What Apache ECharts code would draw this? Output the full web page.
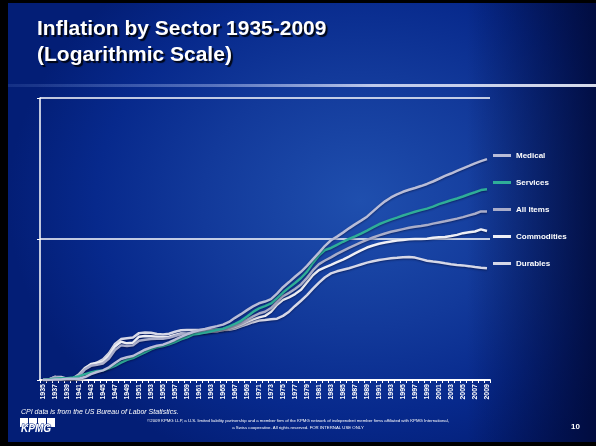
<!DOCTYPE html>
<html>
<head>
<meta charset="utf-8">
<script src="https://cdn.jsdelivr.net/npm/echarts@6/dist/echarts.min.js"></script>
<style>
  html, body { margin: 0; padding: 0; width: 596px; height: 446px; background: #000; overflow: hidden; }
  #slide { position: absolute; left: 8px; top: 3px; width: 588px; height: 439px;
    background:
      linear-gradient(to right, rgba(0,8,50,0) 0%, rgba(0,8,50,0) 78%, rgba(0,6,45,0.75) 100%),
      radial-gradient(ellipse 60% 65% at 60% 45%, #1f4fae 0%, #12399a 45%, #07298c 75%, #031e76 100%); }
  #chart { position: absolute; left: 0; top: 0; width: 596px; height: 446px; }
</style>
</head>
<body>
<div id="slide"></div>
<div id="chart"></div>
<script>
const years = [];
for (let y = 1935; y <= 2009; y++) years.push(String(y));

const seriesNames = ['Medical', 'Services', 'All Items', 'Commodities', 'Durables'];

const medical = [1.00,1.00,1.01,1.01,1.02,1.02,1.02,1.05,1.10,1.14,
  1.17,1.23,1.32,1.41,1.45,1.48,1.56,1.64,1.70,1.75,
  1.78,1.85,1.93,2.02,2.11,2.19,2.25,2.30,2.36,2.41,
  2.47,2.58,2.76,2.93,3.13,3.33,3.50,3.60,3.75,4.10,
  4.55,4.95,5.40,5.85,6.45,7.20,8.00,8.95,9.80,10.40,
  11.10,11.90,12.70,13.50,14.40,15.70,17.10,18.50,19.70,20.70,
  21.62,22.37,23.00,23.74,24.57,25.57,26.75,28.00,29.13,30.40,
  31.69,32.96,34.42,35.70,36.82];

const services = [1.00,1.01,1.02,1.03,1.03,1.04,1.06,1.10,1.13,1.16,
  1.17,1.21,1.26,1.33,1.39,1.43,1.50,1.57,1.65,1.71,
  1.74,1.79,1.86,1.94,2.01,2.10,2.13,2.17,2.22,2.27,
  2.31,2.40,2.50,2.63,2.82,3.04,3.22,3.34,3.49,3.81,
  4.17,4.52,4.87,5.29,5.87,6.77,7.66,8.35,8.64,9.10,
  9.56,10.03,10.45,10.93,11.47,12.10,12.72,13.22,13.73,14.18,
  14.67,15.14,15.60,16.02,16.42,16.98,17.69,18.24,18.83,19.37,
  20.01,20.77,21.46,22.22,22.54];

const allItems = [1.00,1.01,1.05,1.03,1.01,1.02,1.07,1.19,1.26,1.28,
  1.31,1.42,1.63,1.76,1.74,1.76,1.90,1.93,1.95,1.96,
  1.96,1.99,2.05,2.11,2.12,2.16,2.18,2.20,2.23,2.26,
  2.30,2.36,2.44,2.54,2.68,2.83,2.96,3.05,3.24,3.60,
  3.93,4.15,4.42,4.76,5.30,6.01,6.64,7.04,7.40,7.85,
  8.25,8.65,9.05,9.45,9.85,10.25,10.60,10.95,11.25,11.50,
  11.75,12.00,12.20,12.35,12.55,12.85,13.10,13.35,13.65,13.95,
  14.30,14.70,15.10,15.70,15.66];

const commodities = [1.00,1.01,1.05,1.02,1.00,1.01,1.07,1.21,1.30,1.32,
  1.35,1.49,1.73,1.87,1.82,1.84,2.03,2.05,2.04,2.03,
  2.01,2.03,2.09,2.14,2.13,2.15,2.17,2.17,2.20,2.22,
  2.26,2.32,2.38,2.47,2.58,2.69,2.78,2.85,3.05,3.42,
  3.70,3.86,4.07,4.36,4.93,5.56,6.02,6.30,6.55,6.85,
  7.15,7.50,7.90,8.30,8.70,9.00,9.25,9.45,9.60,9.75,
  9.85,9.95,10.00,10.00,10.05,10.20,10.30,10.35,10.50,10.70,
  11.00,11.15,11.30,11.70,11.40];

const durables = [1.00,1.00,1.05,1.05,1.02,1.03,1.10,1.22,1.28,1.33,
  1.40,1.55,1.80,1.95,1.98,2.00,2.15,2.17,2.16,2.12,
  2.10,2.13,2.20,2.25,2.26,2.26,2.26,2.27,2.27,2.28,
  2.26,2.27,2.32,2.40,2.48,2.57,2.64,2.66,2.70,2.72,
  2.85,3.05,3.35,3.65,4.00,4.45,4.90,5.35,5.70,5.90,
  6.05,6.20,6.40,6.60,6.80,6.95,7.10,7.20,7.30,7.35,
  7.42,7.45,7.38,7.20,7.02,6.92,6.85,6.72,6.62,6.55,
  6.50,6.42,6.33,6.25,6.20];

const seriesData = [medical, services, allItems, commodities, durables];
const seriesColors = ['#b9bdd8', '#2fae98', '#a9adca', '#eeeff6', '#d6d8e8'];

const titleLine1 = 'Inflation by Sector 1935-2009';
const titleLine2 = '(Logarithmic Scale)';
const sourceNote = 'CPI data is from the US Bureau of Labor Statistics.';
const copyright1 = '\u00A92009 KPMG LLP, a U.S. limited liability partnership and a member firm of the KPMG network of independent member firms affiliated with KPMG International,';
const copyright2 = 'a Swiss cooperative. All rights reserved. FOR INTERNAL USE ONLY';
const pageNo = '10';

const chart = echarts.init(document.getElementById('chart'), null, { renderer: 'canvas' });

const shadowText = { textShadowColor: 'rgba(0,0,0,0.85)', textShadowOffsetX: 2, textShadowOffsetY: 2, textShadowBlur: 1 };

chart.setOption({
  backgroundColor: 'transparent',
  animation: false,
  graphic: [
    { type: 'rect', left: 8, top: 84, shape: { width: 588, height: 3 },
      style: { fill: new echarts.graphic.LinearGradient(0, 0, 1, 0, [
        { offset: 0, color: 'rgba(120,150,220,0.15)' },
        { offset: 0.35, color: 'rgba(150,170,225,0.55)' },
        { offset: 0.62, color: 'rgba(200,210,240,0.95)' },
        { offset: 1, color: 'rgba(215,220,235,1)' }]) }, z: 1 },
    { type: 'text', left: 37, top: 19, z: 10,
      style: Object.assign({ text: titleLine1, fill: '#ffffff', font: 'bold 21px "Liberation Sans", Arial, sans-serif' }, shadowText) },
    { type: 'text', left: 37, top: 45, z: 10,
      style: Object.assign({ text: titleLine2, fill: '#ffffff', font: 'bold 21px "Liberation Sans", Arial, sans-serif' }, shadowText) },
    { type: 'text', left: 21, top: 409, z: 10,
      style: { text: sourceNote, fill: '#ffffff', font: 'italic 7px "Liberation Sans", Arial, sans-serif' } },
    { type: 'group', left: 20, top: 418, z: 10, children: [
      { type: 'rect', shape: { x: 0, y: 0, width: 8, height: 9 }, style: { fill: '#ffffff' } },
      { type: 'rect', shape: { x: 9, y: 0, width: 8, height: 9 }, style: { fill: '#ffffff' } },
      { type: 'rect', shape: { x: 18, y: 0, width: 8, height: 9 }, style: { fill: '#ffffff' } },
      { type: 'rect', shape: { x: 27, y: 0, width: 8, height: 9 }, style: { fill: '#ffffff' } },
      { type: 'text', x: 1, y: 6, style: { text: 'KPMG', fill: '#ffffff', stroke: '#0a2a88', lineWidth: 1, font: 'italic bold 10px "Liberation Sans", Arial, sans-serif' } }
    ] },
    { type: 'text', left: 'center', top: 419, z: 10,
      style: { text: copyright1, fill: '#ffffff', font: '4.3px "Liberation Sans", Arial, sans-serif' } },
    { type: 'text', left: 'center', top: 426, z: 10,
      style: { text: copyright2, fill: '#ffffff', font: '4.3px "Liberation Sans", Arial, sans-serif' } },
    { type: 'text', left: 571, top: 423, z: 10,
      style: { text: pageNo, fill: '#ffffff', font: 'bold 8px "Liberation Sans", Arial, sans-serif' } }
  ],
  legend: {
    data: seriesNames,
    orient: 'vertical',
    left: 493, top: 151,
    padding: 0,
    itemWidth: 18, itemHeight: 3, itemGap: 18,
    icon: 'rect',
    textStyle: { color: '#ffffff', fontSize: 8, fontWeight: 'bold', lineHeight: 9,
      fontFamily: '"Liberation Sans", Arial, sans-serif',
      textShadowColor: 'rgba(0,0,0,0.7)', textShadowOffsetX: 1, textShadowOffsetY: 1 },
    selectedMode: false
  },
  grid: { left: 40, right: 106, top: 98, bottom: 66, containLabel: false },
  xAxis: {
    type: 'category',
    data: years,
    boundaryGap: true,
    axisLine: { show: true, lineStyle: { color: '#ffffff', width: 2 } },
    axisTick: { show: true, interval: 0, length: 3, lineStyle: { color: '#ffffff', width: 1 } },
    axisLabel: { interval: 1, rotate: 90, color: '#ffffff', fontSize: 7, fontWeight: 'bold', margin: 4,
      fontFamily: '"Liberation Sans", Arial, sans-serif' },
    splitLine: { show: false }
  },
  yAxis: {
    type: 'log', logBase: 10, min: 1, max: 100,
    axisLine: { show: true, lineStyle: { color: '#ffffff', width: 1.5 } },
    axisTick: { show: true, length: 3, lineStyle: { color: '#ffffff' } },
    axisLabel: { show: false },
    splitLine: { show: true, lineStyle: { color: '#ffffff', width: 1.5 } }
  },
  series: seriesNames.map((name, i) => ({
    name: name,
    type: 'line',
    data: seriesData[i],
    showSymbol: false,
    symbol: 'none',
    color: seriesColors[i],
    lineStyle: { color: seriesColors[i], width: 2.5, shadowColor: 'rgba(0,0,30,0.45)', shadowBlur: 2, shadowOffsetY: 1 },
    z: 5 - i
  }))
});
</script>
</body>
</html>
